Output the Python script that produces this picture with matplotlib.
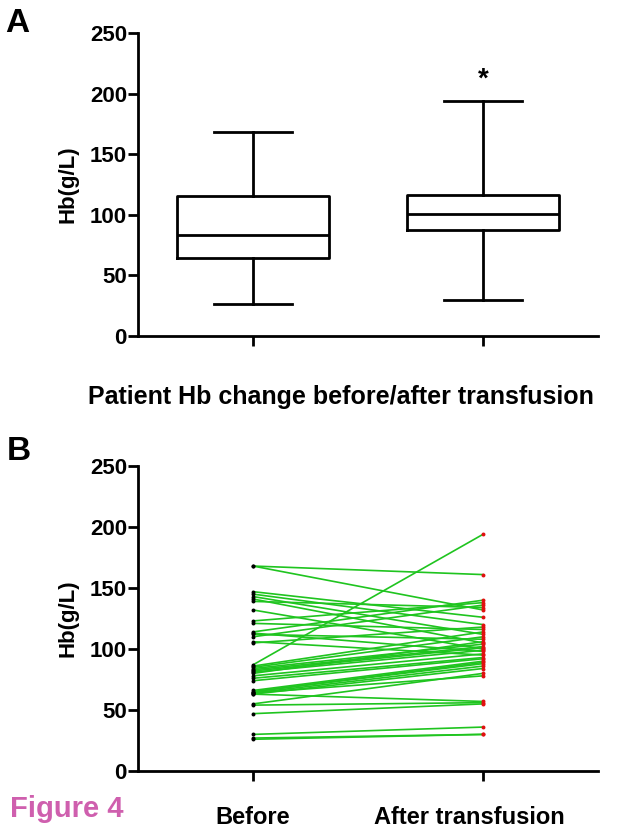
import matplotlib
matplotlib.use("Agg")
import matplotlib.pyplot as plt
import matplotlib.transforms as mtransforms

plt.rcParams['font.family'] = ['Liberation Sans', 'DejaVu Sans']
plt.rcParams['font.weight'] = 'bold'

# Paired Hb values (g/L) per patient
before = [168, 168, 147, 145, 143, 141, 139, 132, 123, 121,
          114, 113, 112, 110, 106, 105, 87, 86, 85, 84,
          83, 82, 81, 80, 78, 76, 74, 66, 65, 65,
          64, 63, 63, 55, 54, 47, 64, 30, 27, 26]
after = [161, 132, 126, 120, 112, 105, 134, 100, 138, 116,
         140, 98, 108, 136, 95, 118, 194, 114, 110, 104,
         102, 101, 99, 106, 96, 93, 92, 90, 89, 88,
         86, 84, 57, 80, 56, 55, 78, 36, 30, 30]

groups_b = ["Before", "After transfusion"]
yticks = [0, 50, 100, 150, 200, 250]
xlabel_a = "Patient Hb change before/after transfusion"
ylabel = "Hb(g/L)"

W, H = 625, 832
fig = plt.figure(figsize=(W / 100, H / 100), dpi=100)

def px_axes(left, right, top, bottom):
    return fig.add_axes([left / W, 1 - bottom / H, (right - left) / W, (bottom - top) / H])

def style(ax, fs):
    for s in ['top', 'right']:
        ax.spines[s].set_visible(False)
    for s in ['left', 'bottom']:
        ax.spines[s].set_linewidth(2.0)
    ax.tick_params(axis='both', direction='out', length=7, width=2.0, colors='black')
    ax.tick_params(axis='y', labelsize=fs, pad=1)
    ax.set_xlim(0.5, 2.5)
    ax.set_ylim(0, 250)
    ax.set_yticks(yticks)
    for lab in ax.get_yticklabels():
        lab.set_fontweight('bold')

# Panel A
axA = px_axes(138, 598, 33, 336)
lw = 2.0
axA.boxplot([before, after], positions=[1, 2], widths=0.66, whis=(0, 100),
            showfliers=False, capwidths=0.34,
            boxprops=dict(linewidth=lw, color='black'),
            whiskerprops=dict(linewidth=lw, color='black'),
            capprops=dict(linewidth=lw, color='black'),
            medianprops=dict(linewidth=lw, color='black'))
style(axA, 16)
axA.set_xticks([1, 2])
axA.set_xticklabels(['', ''])
axA.set_ylabel(ylabel, fontsize=16, fontweight='bold', labelpad=8)
axA.text(2, 201, '*', ha='center', va='bottom', fontsize=20, fontweight='bold')
fig.text(88 / W, 1 - 404 / H, xlabel_a, ha='left', va='baseline', fontsize=18, fontweight='bold')
fig.text(5 / W, 1 - 32 / H, 'A', ha='left', va='baseline', fontsize=24, fontweight='bold')

# Panel B
axB = px_axes(138, 598, 466, 771)
for b, a in zip(before, after):
    axB.plot([1, 2], [b, a], color='#1fc41f', linewidth=1.2, zorder=2)
axB.scatter([1] * len(before), before, s=8, color='black', zorder=3, linewidths=0)
axB.scatter([2] * len(after), after, s=8, color='#e01010', zorder=3, linewidths=0)
style(axB, 16)
axB.set_xticks([1, 2])
axB.set_xticklabels(groups_b, fontsize=17, fontweight='bold')
axB.tick_params(axis='x', pad=18)
# shift second label slightly left, as in the reference
lab2 = axB.get_xticklabels()[1]
lab2.set_transform(lab2.get_transform() + mtransforms.ScaledTranslation(-14 / 100, 0, fig.dpi_scale_trans))
axB.set_ylabel(ylabel, fontsize=16, fontweight='bold', labelpad=8)
fig.text(7 / W, 1 - 460 / H, 'B', ha='left', va='baseline', fontsize=24, fontweight='bold')
fig.text(10 / W, 1 - 817 / H, 'Figure 4', ha='left', va='baseline', fontsize=21,
         fontweight='bold', color='#cf5fae')

fig.savefig('out.png', dpi=100)
